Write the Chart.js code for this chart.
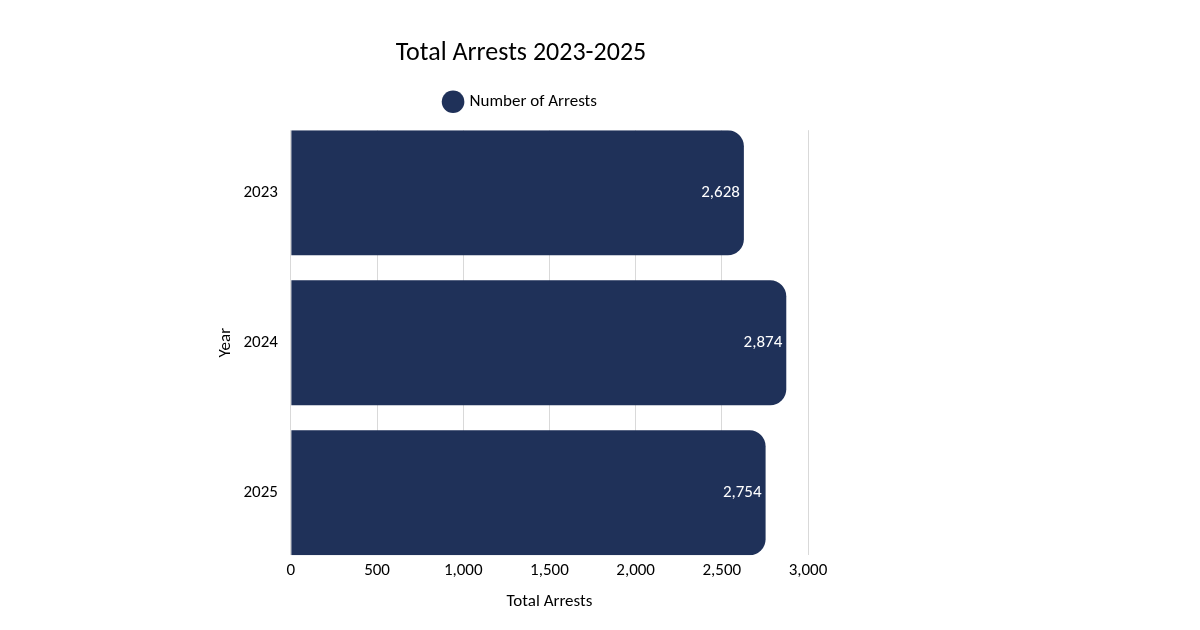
<!DOCTYPE html>
<html>
<head>
<meta charset="utf-8">
<script src="https://cdn.jsdelivr.net/npm/chart.js@4.4.1/dist/chart.umd.min.js"></script>
<style>
  html, body { margin: 0; padding: 0; background: #fff; }
  #wrap { width: 1200px; height: 630px; }
</style>
</head>
<body>
<div id="wrap"><canvas id="arrests"></canvas></div>
<script>
// chart values
const years = ["2023", "2024", "2025"];
const arrestCounts = [2628, 2874, 2754];
const xTicks = [0, 500, 1000, 1500, 2000, 2500, 3000];

const FONT = "Carlito, Lato, 'Liberation Sans', sans-serif";
const NAVY = "#1f3159";
const HALF_BAR = 0.4165; // bars touch the top and bottom of the plot area

// white value labels at the inside end of each bar
const valueLabels = {
  id: "valueLabels",
  afterDatasetsDraw(chart) {
    const ctx = chart.ctx;
    const meta = chart.getDatasetMeta(0);
    ctx.save();
    ctx.fillStyle = "#ffffff";
    ctx.font = "17px " + FONT;
    ctx.textAlign = "right";
    ctx.textBaseline = "middle";
    meta.data.forEach((bar, i) => {
      ctx.fillText(arrestCounts[i].toLocaleString("en-US"), bar.x - 4, bar.y);
    });
    ctx.restore();
  }
};

// a bit more room under the legend
const legendGap = {
  id: "legendGap",
  beforeInit(chart) {
    const fit = chart.legend.fit;
    chart.legend.fit = function () {
      fit.bind(chart.legend)();
      this.height += 10;
    };
  }
};

const context = document.getElementById("arrests").getContext("2d");
new Chart(context, {
  type: "bar",
  data: {
    datasets: [{
      label: "Number of Arrests",
      data: arrestCounts.map((v, i) => ({ x: v, y: i })),
      backgroundColor: NAVY,
      borderRadius: { topRight: 16, bottomRight: 16, topLeft: 0, bottomLeft: 0 },
      borderSkipped: false,
      barPercentage: HALF_BAR * 2,
      categoryPercentage: 1
    }]
  },
  options: {
    indexAxis: "y",
    responsive: true,
    maintainAspectRatio: false,
    animation: false,
    layout: { padding: { left: 216, right: 374, top: 38, bottom: 14 } },
    plugins: {
      title: {
        display: true,
        text: "Total Arrests 2023-2025",
        color: "#000",
        font: { family: FONT, size: 26, weight: "normal" },
        padding: { top: 0, bottom: 12 }
      },
      legend: {
        display: true,
        labels: {
          usePointStyle: true,
          pointStyle: "circle",
          boxWidth: 16,
          boxHeight: 16,
          color: "#000",
          font: { family: FONT, size: 17 },
          padding: 12
        }
      },
      tooltip: { enabled: false }
    },
    scales: {
      x: {
        type: "linear",
        min: 0,
        max: 3000,
        afterBuildTicks(axis) { axis.ticks = xTicks.map(v => ({ value: v })); },
        ticks: {
          color: "#000",
          font: { family: FONT, size: 17 },
          padding: 5,
          callback: v => v.toLocaleString("en-US")
        },
        grid: { color: "#d9d9d9", drawTicks: false },
        border: { display: false },
        title: {
          display: true,
          text: "Total Arrests",
          color: "#000",
          font: { family: FONT, size: 17 },
          padding: { top: 6, bottom: 4 }
        }
      },
      y: {
        type: "linear",
        reverse: true,
        offset: false,
        bounds: "data",
        min: -HALF_BAR,
        max: years.length - 1 + HALF_BAR,
        afterBuildTicks(axis) {
          axis.ticks = years.map((y, i) => ({ value: i }));
          axis.min = -HALF_BAR;
          axis.max = years.length - 1 + HALF_BAR;
        },
        ticks: {
          color: "#000",
          font: { family: FONT, size: 17 },
          padding: 5,
          callback: v => years[v]
        },
        grid: { display: false },
        border: { display: false },
        title: {
          display: true,
          text: "Year",
          color: "#000",
          font: { family: FONT, size: 17 },
          padding: { top: 0, bottom: 2 }
        }
      },
      // empty strip on the right, only to centre the title like the original
      yPad: {
        position: "right",
        display: true,
        grid: { display: false },
        border: { display: false },
        ticks: { display: false },
        afterFit(axis) { axis.width = 18; }
      }
    }
  },
  plugins: [valueLabels, legendGap]
});
</script>
</body>
</html>
